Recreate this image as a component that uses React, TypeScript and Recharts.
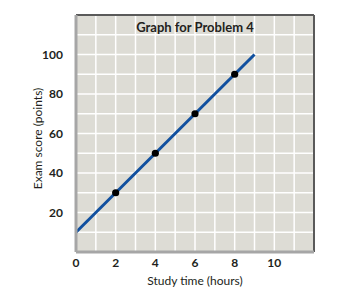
import React from 'react';
import { ComposedChart, Line, Scatter, XAxis, YAxis, CartesianGrid, ReferenceLine } from 'recharts';

const lineData = [
  { x: 0, y: 10 },
  { x: 9, y: 100 },
];
const pointData = [
  { x: 2, y: 30 },
  { x: 4, y: 50 },
  { x: 6, y: 70 },
  { x: 8, y: 90 },
];
const xTicks = [0, 2, 4, 6, 8, 10];
const yTicks = [20, 40, 60, 80, 100];
const xGrid = [1, 2, 3, 4, 5, 6, 7, 8, 9, 10, 11];
const yGrid = [10, 20, 30, 40, 50, 60, 70, 80, 90, 100, 110];
const title = 'Graph for Problem 4';
const xLabel = 'Study time (hours)';
const yLabel = 'Exam score (points)';

const FONT = 'Lato, "Open Sans", sans-serif';

const Dot = (props: any) => <circle cx={props.cx} cy={props.cy} r={3.6} fill="#000" />;

const YLabel = (props: any) => {
  const vb = props.viewBox || {};
  const cx = 29;
  const cy = vb.y + vb.height / 2 + 5;
  return (
    <text
      x={cx}
      y={cy}
      transform={`rotate(-90, ${cx}, ${cy})`}
      textAnchor="middle"
      dominantBaseline="central"
      fontFamily={FONT}
      fontSize={12}
      fill="#231f20"
    >
      {yLabel}
    </text>
  );
};

export default function App() {
  return (
    <ComposedChart
      width={351}
      height={291}
      data={lineData}
      margin={{ top: 7, right: 45, bottom: 0, left: 0 }}
    >
      <CartesianGrid fill="#dddcd5" stroke="none" horizontal={false} vertical={false} />
      {xGrid.map((v) => (
        <ReferenceLine key={'vx' + v} x={v} stroke="#ffffff" strokeWidth={1.5} />
      ))}
      {yGrid.map((v) => (
        <ReferenceLine key={'hy' + v} y={v} stroke="#ffffff" strokeWidth={1.5} />
      ))}
      <ReferenceLine
        y={120}
        stroke="#5a5a5a"
        strokeWidth={2}
        label={{
          value: title,
          position: 'bottom',
          offset: 8,
          fontFamily: FONT,
          fontSize: 13,
          fontWeight: 700,
          fill: '#231f20',
        }}
      />
      <ReferenceLine x={12} stroke="#5a5a5a" strokeWidth={2} />
      <XAxis
        type="number"
        dataKey="x"
        domain={[0, 12]}
        ticks={xTicks}
        allowDataOverflow
        height={47}
        axisLine={{ stroke: '#a6a6a6', strokeWidth: 3 }}
        tickLine={false}
        tickSize={0}
        tickMargin={6}
        tick={{ fontFamily: FONT, fontSize: 12, fontWeight: 700, fill: '#231f20' }}
        label={{
          value: xLabel,
          position: 'insideBottom',
          offset: 14,
          fontFamily: FONT,
          fontSize: 12,
          fill: '#231f20',
        }}
      />
      <YAxis
        type="number"
        dataKey="y"
        domain={[0, 120]}
        ticks={yTicks}
        allowDataOverflow
        width={68}
        axisLine={{ stroke: '#a6a6a6', strokeWidth: 3 }}
        tickLine={false}
        tickSize={0}
        tickMargin={13}
        tick={{ fontFamily: FONT, fontSize: 12, fontWeight: 700, fill: '#231f20' }}
        label={<YLabel />}
      />
      <Line
        data={lineData}
        dataKey="y"
        type="linear"
        stroke="#11509f"
        strokeWidth={3}
        dot={false}
        activeDot={false}
        isAnimationActive={false}
      />
      <Scatter data={pointData} dataKey="y" shape={<Dot />} isAnimationActive={false} />
    </ComposedChart>
  );
}
